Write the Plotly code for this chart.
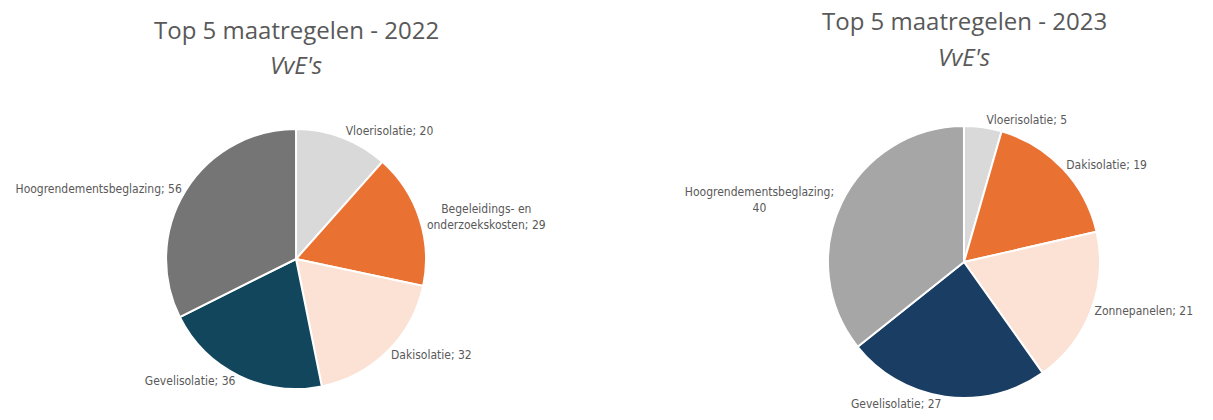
import plotly.graph_objects as go

# Data
labels_2022 = ["Vloerisolatie", "Begeleidings- en<br>onderzoekskosten", "Dakisolatie", "Gevelisolatie", "Hoogrendementsbeglazing"]
values_2022 = [20, 29, 32, 36, 56]
colors_2022 = ["#d9d9d9", "#e97132", "#fbe2d5", "#12465d", "#757575"]

labels_2023 = ["Vloerisolatie", "Dakisolatie", "Zonnepanelen", "Gevelisolatie", "Hoogrendementsbeglazing"]
values_2023 = [5, 19, 21, 27, 40]
colors_2023 = ["#d9d9d9", "#e97132", "#fbe2d5", "#193d63", "#a6a6a6"]
sep_2023 = ["; ", "; ", "; ", "; ", ";<br>"]

title_2022 = "Top 5 maatregelen - 2022"
title_2023 = "Top 5 maatregelen - 2023"
subtitle = "VvE's"

LABEL_FONT = dict(family="Liberation Sans Narrow, DejaVu Sans Condensed, sans-serif", size=12, color="#595959")
TITLE_FONT = "Open Sans, Lato, sans-serif"

text_2022 = [f"{l}; {v}" for l, v in zip(labels_2022, values_2022)]
text_2023 = [f"{l}{s}{v}" for l, s, v in zip(labels_2023, sep_2023, values_2023)]

fig = go.Figure()
fig.add_trace(go.Pie(
    labels=[l.replace("<br>", " ") for l in labels_2022], values=values_2022,
    text=text_2022, textinfo="text", textposition="outside",
    sort=False, direction="clockwise", rotation=0,
    marker=dict(colors=colors_2022, line=dict(color="white", width=2)),
    outsidetextfont=LABEL_FONT, showlegend=False, hoverinfo="label+value",
    domain=dict(x=[0.1369, 0.3512], y=[0.0738, 0.6929]),
))
fig.add_trace(go.Pie(
    labels=labels_2023, values=values_2023,
    text=text_2023, textinfo="text", textposition="outside",
    sort=False, direction="clockwise", rotation=0,
    marker=dict(colors=colors_2023, line=dict(color="white", width=2)),
    outsidetextfont=LABEL_FONT, showlegend=False, hoverinfo="label+value",
    domain=dict(x=[0.6826, 0.9068], y=[0.0524, 0.70]),
))

annots = [
    dict(x=296/1213, y=1 - 30/420, text=title_2022),
    dict(x=296/1213, y=1 - 64/420, text=f"<i>{subtitle}</i>"),
    dict(x=964/1213, y=1 - 20/420, text=title_2023),
    dict(x=964/1213, y=1 - 57/420, text=f"<i>{subtitle}</i>"),
]
for a in annots:
    fig.add_annotation(xref="paper", yref="paper", xanchor="center", yanchor="middle",
                       showarrow=False, font=dict(family=TITLE_FONT, size=24, color="#595959"), **a)

fig.update_layout(
    width=1213, height=420,
    margin=dict(l=0, r=0, t=0, b=0),
    paper_bgcolor="white", plot_bgcolor="white",
)

fig.write_html("out.html", config={"displayModeBar": False})
with open("out.html", encoding="utf-8") as f:
    html = f.read()
html = html.replace("<body>", '<body style="margin:0;padding:0;">', 1)
with open("out.html", "w", encoding="utf-8") as f:
    f.write(html)
